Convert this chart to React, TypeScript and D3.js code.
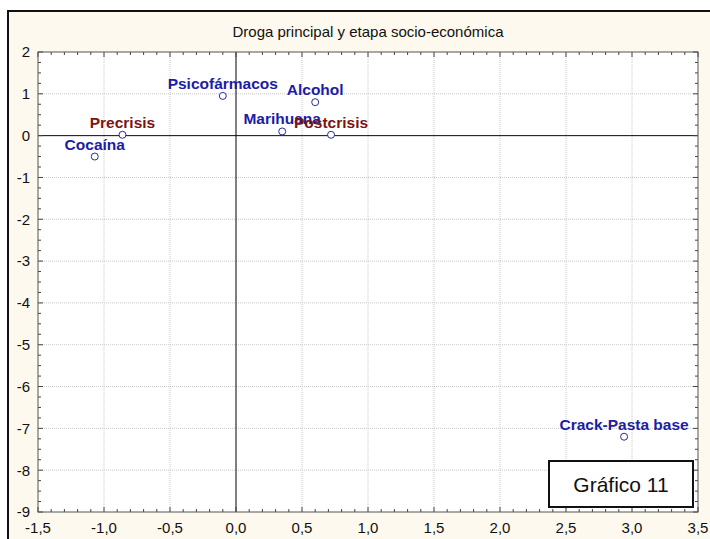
import React, { useEffect, useRef } from 'react';
import * as d3 from 'd3';

const title = 'Droga principal y etapa socio-económica';

// drug points (blue) and stage points (dark red)
const drugNames = ['Psicofármacos', 'Alcohol', 'Marihuana', 'Cocaína', 'Crack-Pasta base'];
const drugX = [-0.1, 0.6, 0.35, -1.07, 2.94];
const drugY = [0.95, 0.8, 0.1, -0.5, -7.2];

const stageNames = ['Precrisis', 'Postcrisis'];
const stageX = [-0.86, 0.72];
const stageY = [0.02, 0.02];

const xTicks = [-1.5, -1.0, -0.5, 0.0, 0.5, 1.0, 1.5, 2.0, 2.5, 3.0, 3.5];
const yTicks = [2, 1, 0, -1, -2, -3, -4, -5, -6, -7, -8, -9];

const W = 710;
const H = 539;
const FONT = 'Arial, "Liberation Sans", sans-serif';

export default function App() {
  const svgRef = useRef<SVGSVGElement>(null);

  useEffect(() => {
    if (!svgRef.current) return;
    const svg = d3.select(svgRef.current);
    svg.selectAll('*').remove();

    const margin = { top: 52, right: 12, bottom: 27, left: 38 };
    const w = W - margin.left - margin.right;
    const h = H - margin.top - margin.bottom;

    // outer cream frame
    svg.append('rect').attr('width', W).attr('height', H).attr('fill', '#ffffff');
    svg.append('rect')
      .attr('x', 8).attr('y', 11)
      .attr('width', W).attr('height', H)
      .attr('fill', '#fdf9ee')
      .attr('stroke', '#111')
      .attr('stroke-width', 2);

    svg.append('text')
      .attr('x', margin.left + w / 2)
      .attr('y', 37)
      .attr('text-anchor', 'middle')
      .attr('font-family', FONT)
      .attr('font-size', '15px')
      .attr('fill', '#111')
      .text(title);

    const x = d3.scaleLinear().domain([-1.5, 3.5]).range([0, w]);
    const y = d3.scaleLinear().domain([-9, 2]).range([h, 0]);

    const g = svg.append('g').attr('transform', `translate(${margin.left},${margin.top})`);

    g.append('rect').attr('width', w).attr('height', h).attr('fill', '#ffffff');

    // dotted grid
    g.append('g')
      .selectAll('line')
      .data(xTicks.slice(1, -1))
      .join('line')
      .attr('x1', d => x(d)).attr('x2', d => x(d))
      .attr('y1', 0).attr('y2', h)
      .attr('stroke', '#c8c8c8')
      .attr('stroke-dasharray', '1 1');
    g.append('g')
      .selectAll('line')
      .data(yTicks.slice(1, -1))
      .join('line')
      .attr('y1', d => y(d)).attr('y2', d => y(d))
      .attr('x1', 0).attr('x2', w)
      .attr('stroke', '#c8c8c8')
      .attr('stroke-dasharray', '1 1');

    // zero lines
    g.append('line')
      .attr('x1', x(0)).attr('x2', x(0)).attr('y1', 0).attr('y2', h)
      .attr('stroke', '#111');
    g.append('line')
      .attr('y1', y(0)).attr('y2', y(0)).attr('x1', 0).attr('x2', w)
      .attr('stroke', '#111');

    // inward ticks on all four sides
    const xMinor = d3.range(-1.5, 3.5001, 0.1);
    const yMinor = d3.range(-9, 2.0001, 0.25);
    const tickCol = '#444';
    const isMajorX = (v: number) => Math.abs(v * 2 - Math.round(v * 2)) < 1e-6;
    const isMajorY = (v: number) => Math.abs(v - Math.round(v)) < 1e-6;
    xMinor.forEach(v => {
      const len = isMajorX(v) ? 5 : 3;
      g.append('line').attr('x1', x(v)).attr('x2', x(v)).attr('y1', h).attr('y2', h - len).attr('stroke', tickCol);
      g.append('line').attr('x1', x(v)).attr('x2', x(v)).attr('y1', 0).attr('y2', len).attr('stroke', tickCol);
    });
    yMinor.forEach(v => {
      const len = isMajorY(v) ? 5 : 3;
      g.append('line').attr('y1', y(v)).attr('y2', y(v)).attr('x1', 0).attr('x2', len).attr('stroke', tickCol);
      g.append('line').attr('y1', y(v)).attr('y2', y(v)).attr('x1', w).attr('x2', w - len).attr('stroke', tickCol);
    });

    // plot frame
    g.append('rect')
      .attr('width', w).attr('height', h)
      .attr('fill', 'none')
      .attr('stroke', '#555');

    // tick labels
    const fmt = (d: number) => d3.format('.1f')(d).replace('.', ',').replace('−', '-');
    g.append('g')
      .selectAll('text')
      .data(xTicks)
      .join('text')
      .attr('x', d => x(d))
      .attr('y', h + 21)
      .attr('text-anchor', 'middle')
      .attr('font-family', FONT)
      .attr('font-size', '15px')
      .attr('fill', '#111')
      .text(d => fmt(d));
    g.append('g')
      .selectAll('text')
      .data(yTicks)
      .join('text')
      .attr('x', -8)
      .attr('y', d => y(d))
      .attr('dy', '0.36em')
      .attr('text-anchor', 'end')
      .attr('font-family', FONT)
      .attr('font-size', '15px')
      .attr('fill', '#111')
      .text(d => String(d));

    // points and labels
    const drawSeries = (names: string[], xs: number[], ys: number[], color: string) => {
      names.forEach((n, i) => {
        g.append('text')
          .attr('x', x(xs[i]))
          .attr('y', y(ys[i]) - 7)
          .attr('text-anchor', 'middle')
          .attr('font-family', FONT)
          .attr('font-size', '15.5px')
          .attr('font-weight', 'bold')
          .attr('fill', color)
          .text(n);
      });
      names.forEach((n, i) => {
        g.append('circle')
          .attr('cx', x(xs[i]))
          .attr('cy', y(ys[i]))
          .attr('r', 3.5)
          .attr('fill', '#fff')
          .attr('stroke', '#2a2a9a')
          .attr('stroke-width', 1);
      });
    };
    drawSeries(drugNames, drugX, drugY, '#1c1ca6');
    drawSeries(stageNames, stageX, stageY, '#7a1515');

    // "Gráfico 11" box
    svg.append('rect')
      .attr('x', 549).attr('y', 461)
      .attr('width', 144).attr('height', 46)
      .attr('fill', '#fff')
      .attr('stroke', '#111')
      .attr('stroke-width', 2);
    svg.append('text')
      .attr('x', 621).attr('y', 492)
      .attr('text-anchor', 'middle')
      .attr('font-family', FONT)
      .attr('font-size', '21px')
      .attr('fill', '#111')
      .text('Gráfico 11');
  }, []);

  return (
    <div style={{ position: 'fixed', left: 0, top: 0 }}>
      <svg ref={svgRef} width={W} height={H} style={{ display: 'block' }} />
    </div>
  );
}
